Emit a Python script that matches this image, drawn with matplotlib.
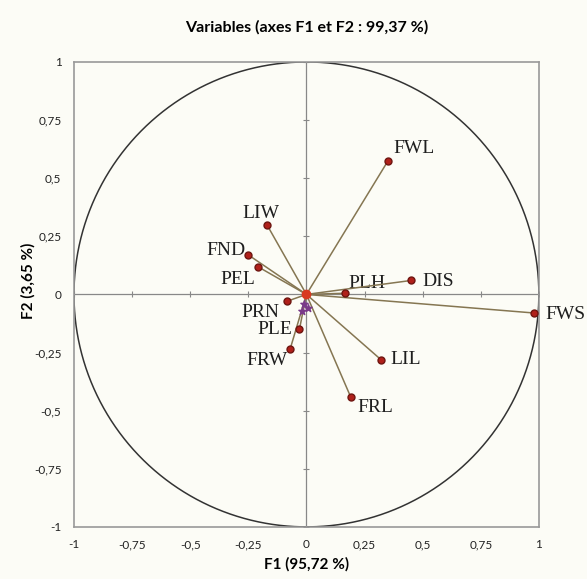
import matplotlib.pyplot as plt
import numpy as np

names = ["FWL", "LIW", "FND", "PEL", "PLH", "DIS", "FWS", "PRN", "PLE", "FRW", "LIL", "FRL"]
f1 = [0.35, -0.17, -0.25, -0.21, 0.165, 0.45, 0.98, -0.085, -0.03, -0.07, 0.32, 0.19]
f2 = [0.573, 0.30, 0.17, 0.12, 0.005, 0.06, -0.08, -0.03, -0.15, -0.235, -0.28, -0.44]
# label offsets (points) and alignment
label_pos = {
    "FWL": (4, 9, "left"), "LIW": (-4, 8, "center"), "FND": (-2, 3, "right"),
    "PEL": (-2, -9, "right"), "PLH": (16, 7, "center"), "DIS": (8, -1, "left"),
    "FWS": (8, -1, "left"), "PRN": (-5, -8, "right"), "PLE": (-5, 0, "right"),
    "FRW": (-2, -8, "right"), "LIL": (7, 0, "left"), "FRL": (5, -8, "left"),
}
# small variables clustered near the origin
small_f1 = [-0.01, 0.005, -0.02]
small_f2 = [-0.04, -0.06, -0.07]
ticks = [-1, -0.75, -0.5, -0.25, 0, 0.25, 0.5, 0.75, 1]
tick_labels = ["-1", "-0,75", "-0,5", "-0,25", "0", "0,25", "0,5", "0,75", "1"]

bg = "#fcfcf6"
fig = plt.figure(figsize=(5.87, 5.79), dpi=100, facecolor=bg)
ax = fig.add_axes([0.126, 0.09, 0.792, 0.803], facecolor=bg)

t = np.linspace(0, 2 * np.pi, 400)
ax.plot(np.cos(t), np.sin(t), color="#333333", lw=1.1)
ax.axhline(0, color="#888888", lw=0.9)
ax.axvline(0, color="#888888", lw=0.9)
ax.scatter(ticks, [0] * len(ticks), marker="|", s=25, color="#888888", lw=0.8)
ax.scatter([0] * len(ticks), ticks, marker="_", s=25, color="#888888", lw=0.8)

for n, x, y in zip(names, f1, f2):
    ax.plot([0, x], [0, y], color="#857652", lw=1.1, zorder=3)
    ax.plot(x, y, "o", ms=5, mfc="#b0201a", mec="#6e1510", zorder=4)
    dx, dy, ha = label_pos[n]
    ax.annotate(n, (x, y), xytext=(dx, dy), textcoords="offset points",
                ha=ha, va="center", family="Liberation Serif", fontsize=14, color="#1e1e1e")
ax.scatter(small_f1, small_f2, marker="*", s=30, color="#7a3a8a", zorder=5)
ax.plot(0, 0, "o", ms=6, color="#d83a20", zorder=5)

ax.set_xlim(-1, 1)
ax.set_ylim(-1, 1)
ax.set_xticks(ticks)
ax.set_xticklabels(tick_labels)
ax.set_yticks(ticks)
ax.set_yticklabels(tick_labels)
ax.tick_params(length=0, labelsize=8.5, pad=9, colors="#222222")
for s in ax.spines.values():
    s.set_color("#999999")
    s.set_linewidth(1.2)
for lab in ax.get_xticklabels() + ax.get_yticklabels():
    lab.set_family("Lato")

ax.set_title("Variables (axes F1 et F2 : 99,37 %)", family="Lato", fontweight="bold",
             fontsize=11.5, pad=22)
ax.set_xlabel("F1 (95,72 %)", family="Lato", fontweight="bold", fontsize=11, labelpad=5)
ax.set_ylabel("F2 (3,65 %)", family="Lato", fontweight="bold", fontsize=11, labelpad=6)
ax.yaxis.set_label_coords(-0.082, 0.53)

fig.savefig("out.png", dpi=100, facecolor=bg)
